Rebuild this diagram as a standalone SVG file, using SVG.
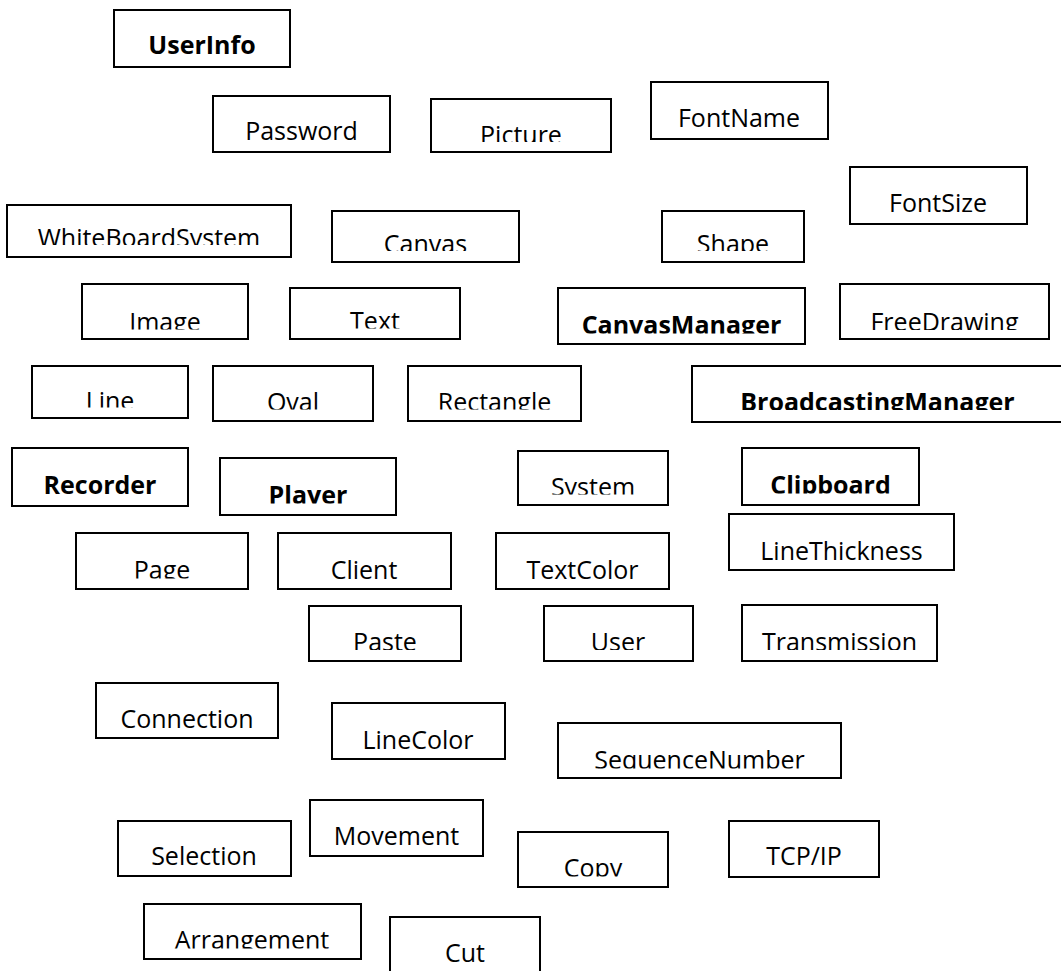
<svg xmlns="http://www.w3.org/2000/svg" width="1061" height="971" viewBox="0 0 1061 971">
<style>
rect.b{fill:#fff;stroke:#000;stroke-width:2}
text{font-family:"Open Sans","Noto Sans","Liberation Sans",sans-serif;font-size:25px;fill:#000;text-anchor:middle}
text.bold{font-weight:bold}
</style>
<defs>
<clipPath id="c-picture" clipPathUnits="userSpaceOnUse"><rect x="431" y="99" width="180" height="43"/></clipPath>
<clipPath id="c-wbs" clipPathUnits="userSpaceOnUse"><rect x="7" y="205" width="284" height="40"/></clipPath>
<clipPath id="c-canvas" clipPathUnits="userSpaceOnUse"><rect x="332" y="211" width="187" height="40"/></clipPath>
<clipPath id="c-shape" clipPathUnits="userSpaceOnUse"><rect x="662" y="211" width="142" height="40"/></clipPath>
<clipPath id="c-image" clipPathUnits="userSpaceOnUse"><rect x="82" y="284" width="166" height="45.5"/></clipPath>
<clipPath id="c-text" clipPathUnits="userSpaceOnUse"><rect x="290" y="288" width="170" height="40.5"/></clipPath>
<clipPath id="c-cm" clipPathUnits="userSpaceOnUse"><rect x="558" y="288" width="247" height="45.5"/></clipPath>
<clipPath id="c-fd" clipPathUnits="userSpaceOnUse"><rect x="840" y="284" width="209" height="46"/></clipPath>
<clipPath id="c-line" clipPathUnits="userSpaceOnUse"><rect x="32" y="366" width="156" height="41.5"/></clipPath>
<clipPath id="c-oval" clipPathUnits="userSpaceOnUse"><rect x="213" y="366" width="160" height="43.5"/></clipPath>
<clipPath id="c-rect" clipPathUnits="userSpaceOnUse"><rect x="408" y="366" width="173" height="43.5"/></clipPath>
<clipPath id="c-bm" clipPathUnits="userSpaceOnUse"><rect x="692" y="366" width="371" height="44"/></clipPath>
<clipPath id="c-player" clipPathUnits="userSpaceOnUse"><rect x="220" y="458" width="176" height="45.5"/></clipPath>
<clipPath id="c-system" clipPathUnits="userSpaceOnUse"><rect x="518" y="451" width="150" height="43.5"/></clipPath>
<clipPath id="c-clip" clipPathUnits="userSpaceOnUse"><rect x="742" y="448" width="177" height="45.5"/></clipPath>
<clipPath id="c-page" clipPathUnits="userSpaceOnUse"><rect x="76" y="533" width="172" height="45.5"/></clipPath>
<clipPath id="c-paste" clipPathUnits="userSpaceOnUse"><rect x="309" y="606" width="152" height="44"/></clipPath>
<clipPath id="c-user" clipPathUnits="userSpaceOnUse"><rect x="544" y="606" width="149" height="44"/></clipPath>
<clipPath id="c-trans" clipPathUnits="userSpaceOnUse"><rect x="742" y="605" width="195" height="45"/></clipPath>
<clipPath id="c-seq" clipPathUnits="userSpaceOnUse"><rect x="558" y="723" width="283" height="45.5"/></clipPath>
<clipPath id="c-copy" clipPathUnits="userSpaceOnUse"><rect x="518" y="832" width="150" height="44.5"/></clipPath>
<clipPath id="c-arr" clipPathUnits="userSpaceOnUse"><rect x="144" y="904" width="217" height="44.5"/></clipPath>
</defs>
<rect width="1061" height="971" fill="#fff"/>
<g id="connectors"></g>
<g id="UserInfo"><rect class="b" x="114" y="10" width="176" height="57"/><text class="bold" x="202" y="54">UserInfo</text></g>
<g id="Password"><rect class="b" x="213" y="96" width="177" height="56"/><text x="301.5" y="140">Password</text></g>
<g id="Picture"><rect class="b" x="431" y="99" width="180" height="53"/><text x="521" y="143.5" clip-path="url(#c-picture)">Picture</text></g>
<g id="FontName"><rect class="b" x="651" y="82" width="177" height="57"/><text x="739" y="127">FontName</text></g>
<g id="FontSize"><rect class="b" x="850" y="167" width="177" height="57"/><text x="938" y="212">FontSize</text></g>
<g id="WhiteBoardSystem"><rect class="b" x="7" y="205" width="284" height="52"/><text x="149" y="246.5" clip-path="url(#c-wbs)">WhiteBoardSystem</text></g>
<g id="Canvas"><rect class="b" x="332" y="211" width="187" height="51"/><text x="425.5" y="252.5" clip-path="url(#c-canvas)">Canvas</text></g>
<g id="Shape"><rect class="b" x="662" y="211" width="142" height="51"/><text x="733" y="252.5" clip-path="url(#c-shape)">Shape</text></g>
<g id="Image"><rect class="b" x="82" y="284" width="166" height="55"/><text x="165" y="330.5" clip-path="url(#c-image)">Image</text></g>
<g id="Text"><rect class="b" x="290" y="288" width="170" height="51"/><text x="375" y="330" clip-path="url(#c-text)">Text</text></g>
<g id="CanvasManager"><rect class="b" x="558" y="288" width="247" height="56"/><text class="bold" x="681.5" y="334" clip-path="url(#c-cm)">CanvasManager</text></g>
<g id="FreeDrawing"><rect class="b" x="840" y="284" width="209" height="55"/><text x="944.5" y="330.5" clip-path="url(#c-fd)">FreeDrawing</text></g>
<g id="Line"><rect class="b" x="32" y="366" width="156" height="52"/><text x="110" y="409.5" clip-path="url(#c-line)">Line</text></g>
<g id="Oval"><rect class="b" x="213" y="366" width="160" height="55"/><text x="293" y="410.5" clip-path="url(#c-oval)">Oval</text></g>
<g id="Rectangle"><rect class="b" x="408" y="366" width="173" height="55"/><text x="494.5" y="410.5" clip-path="url(#c-rect)">Rectangle</text></g>
<g id="BroadcastingManager"><rect class="b" x="692" y="366" width="371" height="56"/><text class="bold" x="877.5" y="410.5" clip-path="url(#c-bm)">BroadcastingManager</text></g>
<g id="Recorder"><rect class="b" x="12" y="448" width="176" height="58"/><text class="bold" x="100" y="493.5">Recorder</text></g>
<g id="Player"><rect class="b" x="220" y="458" width="176" height="57"/><text class="bold" x="308" y="504" clip-path="url(#c-player)">Player</text></g>
<g id="System"><rect class="b" x="518" y="451" width="150" height="54"/><text x="593" y="495.5" clip-path="url(#c-system)">System</text></g>
<g id="Clipboard"><rect class="b" x="742" y="448" width="177" height="57"/><text class="bold" x="830.5" y="494" clip-path="url(#c-clip)">Clipboard</text></g>
<g id="LineThickness"><rect class="b" x="729" y="514" width="225" height="56"/><text x="841.5" y="560">LineThickness</text></g>
<g id="Page"><rect class="b" x="76" y="533" width="172" height="56"/><text x="162" y="579" clip-path="url(#c-page)">Page</text></g>
<g id="Client"><rect class="b" x="278" y="533" width="173" height="56"/><text x="364" y="578.5">Client</text></g>
<g id="TextColor"><rect class="b" x="496" y="533" width="173" height="56"/><text x="582.5" y="578.5">TextColor</text></g>
<g id="Paste"><rect class="b" x="309" y="606" width="152" height="55"/><text x="385" y="651" clip-path="url(#c-paste)">Paste</text></g>
<g id="User"><rect class="b" x="544" y="606" width="149" height="55"/><text x="618" y="651" clip-path="url(#c-user)">User</text></g>
<g id="Transmission"><rect class="b" x="742" y="605" width="195" height="56"/><text x="839.5" y="651" clip-path="url(#c-trans)">Transmission</text></g>
<g id="Connection"><rect class="b" x="96" y="683" width="182" height="55"/><text x="187" y="728">Connection</text></g>
<g id="LineColor"><rect class="b" x="332" y="703" width="173" height="56"/><text x="418" y="748.5">LineColor</text></g>
<g id="SequenceNumber"><rect class="b" x="558" y="723" width="283" height="55"/><text x="699.5" y="769" clip-path="url(#c-seq)">SequenceNumber</text></g>
<g id="Movement"><rect class="b" x="310" y="800" width="173" height="56"/><text x="396.5" y="845">Movement</text></g>
<g id="Selection"><rect class="b" x="118" y="821" width="173" height="55"/><text x="204" y="865">Selection</text></g>
<g id="Copy"><rect class="b" x="518" y="832" width="150" height="55"/><text x="593" y="877" clip-path="url(#c-copy)">Copy</text></g>
<g id="TCPIP"><rect class="b" x="729" y="821" width="150" height="56"/><text x="804" y="865">TCP/IP</text></g>
<g id="Arrangement"><rect class="b" x="144" y="904" width="217" height="55"/><text x="252" y="949" clip-path="url(#c-arr)">Arrangement</text></g>
<g id="Cut"><rect class="b" x="390" y="917" width="150" height="70"/><text x="465" y="962">Cut</text></g>
</svg>
